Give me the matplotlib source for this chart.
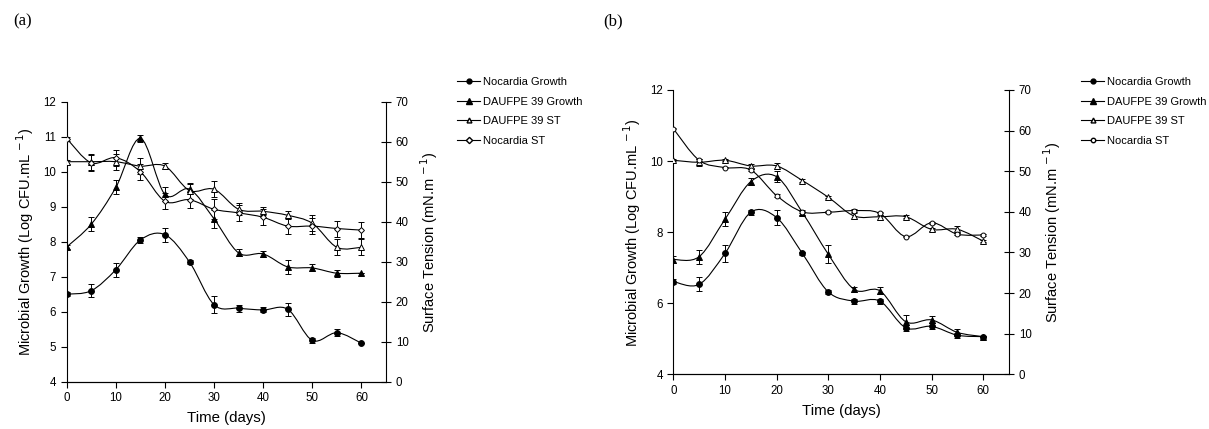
import numpy as np
import matplotlib
matplotlib.use("Agg")
import matplotlib.pyplot as plt
from matplotlib.path import Path
from matplotlib.patches import PathPatch
from matplotlib.lines import Line2D

plt.rcParams['font.family'] = ['Liberation Sans', 'DejaVu Sans']

days = [0, 5, 10, 15, 20, 25, 30, 35, 40, 45, 50, 55, 60]

# ---- panel (a) ----
a_noc_growth = [6.5, 6.6, 7.2, 8.05, 8.2, 7.42, 6.2, 6.1, 6.05, 6.07, 5.18, 5.4, 5.1]
a_noc_growth_err = [0.06, 0.18, 0.2, 0.08, 0.2, 0.06, 0.25, 0.1, 0.07, 0.18, 0.08, 0.1, 0.0]
a_dau_growth = [7.85, 8.5, 9.55, 10.95, 9.35, 9.5, 8.65, 7.68, 7.65, 7.28, 7.25, 7.1, 7.1]
a_dau_growth_err = [0.05, 0.2, 0.2, 0.1, 0.2, 0.15, 0.25, 0.1, 0.08, 0.2, 0.1, 0.1, 0.0]
a_dau_st = [55.0, 55.0, 55.0, 53.9, 53.9, 47.8, 48.1, 43.1, 42.6, 41.6, 39.6, 33.6, 33.6]
a_dau_st_err = [0.5, 2.0, 2.0, 2.0, 0.8, 2.0, 2.0, 1.5, 1.0, 1.0, 2.0, 2.0, 2.0]
a_noc_st = [60.8, 54.7, 56.0, 52.5, 45.1, 45.5, 43.1, 42.2, 41.1, 38.9, 38.9, 38.3, 37.9]
a_noc_st_err = [0.5, 2.0, 2.0, 2.0, 2.0, 2.0, 2.5, 2.0, 2.0, 2.0, 2.0, 2.0, 2.0]

# ---- panel (b) ----
b_noc_growth = [6.61, 6.53, 7.4, 8.56, 8.41, 7.4, 6.32, 6.06, 6.06, 5.31, 5.35, 5.1, 5.06]
b_noc_growth_err = [0.08, 0.2, 0.25, 0.07, 0.2, 0.05, 0.05, 0.07, 0.07, 0.08, 0.08, 0.07, 0.02]
b_dau_growth = [7.23, 7.31, 8.36, 9.42, 9.56, 8.55, 7.38, 6.39, 6.35, 5.48, 5.53, 5.18, 5.06]
b_dau_growth_err = [0.1, 0.2, 0.2, 0.1, 0.15, 0.07, 0.25, 0.08, 0.1, 0.2, 0.1, 0.1, 0.02]
b_dau_st = [52.7, 52.2, 52.7, 51.3, 51.3, 47.7, 43.6, 39.0, 38.8, 38.8, 35.7, 35.7, 32.8]
b_dau_st_err = [0.3, 0.8, 0.3, 0.5, 0.8, 0.3, 0.3, 0.8, 0.8, 0.3, 0.3, 0.8, 0.3]
b_noc_st = [60.5, 52.7, 50.9, 50.3, 44.0, 40.0, 39.9, 40.3, 39.6, 33.9, 37.3, 34.5, 34.3]
b_noc_st_err = [0.2, 0.3, 0.2, 0.3, 0.3, 0.3, 0.2, 0.3, 0.3, 0.2, 0.3, 0.3, 0.2]

labels = ["Nocardia Growth", "DAUFPE 39 Growth", "DAUFPE 39 ST", "Nocardia ST"]

W, H = 1209, 429
fig = plt.figure(figsize=(W / 100, H / 100), dpi=100)


def smooth_line(ax, x, y, lw=0.8):
    # excel style smoothed line, bezier segments through the points
    pts = np.column_stack([x, y]).astype(float)
    verts = [pts[0]]
    codes = [Path.MOVETO]
    n = len(pts)
    for i in range(n - 1):
        p0 = pts[max(i - 1, 0)]
        p1 = pts[i]
        p2 = pts[i + 1]
        p3 = pts[min(i + 2, n - 1)]
        c1 = p1 + (p2 - p0) / 6.0
        c2 = p2 - (p3 - p1) / 6.0
        verts += [c1, c2, p2]
        codes += [Path.CURVE4] * 3
    ax.add_patch(PathPatch(Path(verts, codes), fill=False, lw=lw, edgecolor='black', zorder=2))


def series(ax, y, err, marker, mfc, ms):
    smooth_line(ax, days, y)
    ax.errorbar(days, y, yerr=err, fmt='none', ecolor='black', elinewidth=0.7,
                capsize=2.2, capthick=0.7, zorder=3)
    ax.plot(days, y, linestyle='none', marker=marker, mfc=mfc, mec='black',
            mew=0.7, ms=ms, zorder=4)


def panel(rect, g1, e1, g2, e2, s1, se1, s2, se2, ystep, st_marker, st_ms, leg_xy, tag, tag_x):
    ax = fig.add_axes(rect)
    ax2 = ax.twinx()
    series(ax, g1, e1, 'o', 'black', 4.2)
    series(ax, g2, e2, '^', 'black', 4.6)
    series(ax2, s1, se1, '^', 'white', 4.2)
    series(ax2, s2, se2, st_marker, 'white', st_ms)

    ax.set_xlim(0, 65)
    ax.set_ylim(4, 12)
    ax.set_yticks(np.arange(4, 12.1, ystep))
    ax.set_xticks(range(0, 61, 10))
    ax2.set_ylim(0, 70)
    ax2.set_yticks(range(0, 71, 10))
    for a in (ax, ax2):
        a.spines['top'].set_visible(False)
        a.spines['left'].set_linewidth(0.8)
        a.spines['right'].set_linewidth(0.8)
        a.spines['bottom'].set_linewidth(0.8)
    ax.spines['right'].set_visible(False)
    ax2.spines['left'].set_visible(False)
    ax.tick_params(axis='both', labelsize=8.3, width=0.8, length=4, direction='out')
    ax2.tick_params(axis='y', labelsize=8.3, width=0.8, length=7, direction='inout')
    ax.set_xlabel("Time (days)", fontsize=10.8, labelpad=5)
    ax.set_ylabel(r"Microbial Growth (Log CFU.mL$^{\,-1}$)", fontsize=10.5, labelpad=5)
    ax2.set_ylabel(r"Surface Tension (mN.m$^{\,-1}$)", fontsize=10.5, labelpad=7)

    handles = [
        Line2D([], [], color='black', lw=0.8, marker='o', mfc='black', mec='black', ms=3.5),
        Line2D([], [], color='black', lw=0.8, marker='^', mfc='black', mec='black', ms=4),
        Line2D([], [], color='black', lw=0.8, marker='^', mfc='white', mec='black', ms=3.5),
        Line2D([], [], color='black', lw=0.8, marker=st_marker, mfc='white', mec='black', ms=3.2),
    ]
    fig.legend(handles, labels, loc='upper left',
               bbox_to_anchor=(leg_xy[0] / W, 1 - leg_xy[1] / H),
               frameon=False, fontsize=8, handlelength=2.1, handletextpad=0.25,
               labelspacing=0.86, borderpad=0, borderaxespad=0)
    fig.text(tag_x / W, 1 - 21 / H, tag, fontsize=12, family='Liberation Serif', va='center')


panel([66.7 / W, 1 - 381.7 / H, 319.3 / W, 280 / H],
      a_noc_growth, a_noc_growth_err, a_dau_growth, a_dau_growth_err,
      a_dau_st, a_dau_st_err, a_noc_st, a_noc_st_err,
      1, 'D', 3.0, (457, 77), "(a)", 13)

panel([673.3 / W, 1 - 374.3 / H, 335.7 / W, 284.3 / H],
      b_noc_growth, b_noc_growth_err, b_dau_growth, b_dau_growth_err,
      b_dau_st, b_dau_st_err, b_noc_st, b_noc_st_err,
      2, 'o', 3.5, (1081, 77), "(b)", 603)

fig.savefig("out.png", dpi=100)
